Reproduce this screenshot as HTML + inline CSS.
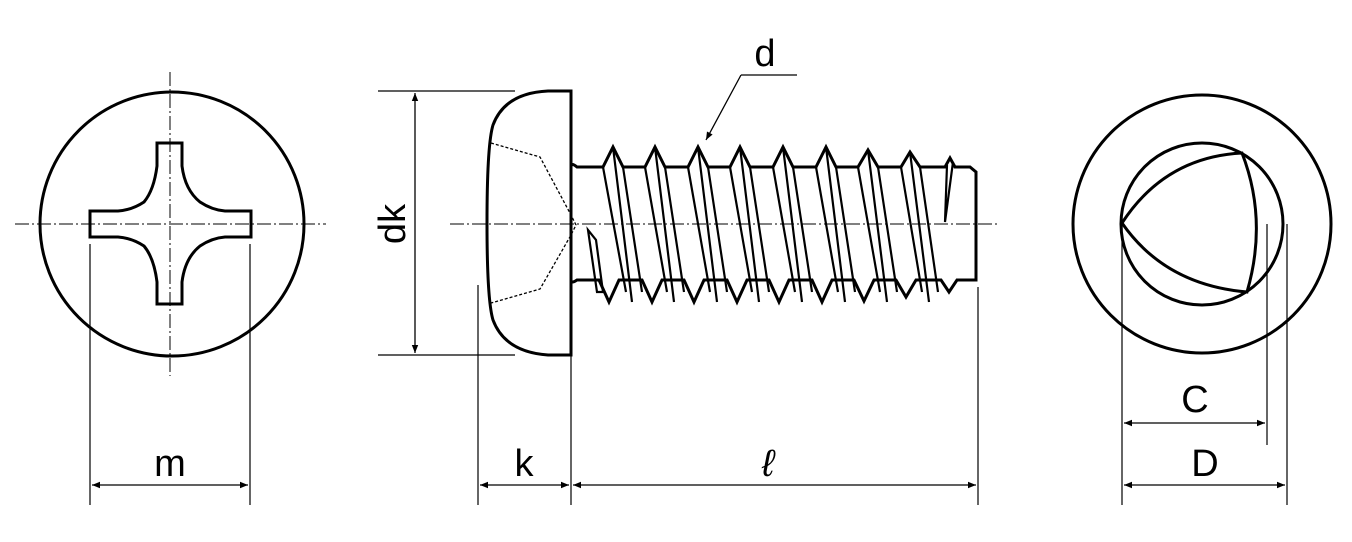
<!DOCTYPE html>
<html><head><meta charset="utf-8"><style>
html,body{margin:0;padding:0;background:#fff;}
svg{display:block;}
text{font-family:"Liberation Sans",sans-serif;fill:#000;}
</style></head><body>
<svg width="1352" height="542" viewBox="0 0 1352 542" xmlns="http://www.w3.org/2000/svg">
<defs>
<marker id="a" viewBox="0 0 10 10" refX="10" refY="5" markerWidth="14" markerHeight="8" markerUnits="userSpaceOnUse" orient="auto-start-reverse"><path d="M0,1 L10,5 L0,9 z" fill="#000"/></marker>
</defs>
<g fill="none" stroke="#000">
<circle cx="172" cy="224" r="132" stroke-width="3"/>
<path d="M157,143 H182 V166 Q185,190 200,202 Q212,210 225,211 H251 V237 H225 Q212,238 200,246 Q185,258 182,282 V304 H157 V282 Q154,258 144,246 Q132,238 118,237 H90 V211 H118 Q132,210 144,202 Q154,190 157,166 Z" stroke-width="3"/>
<line x1="15" y1="224" x2="326" y2="224" stroke-width="1" stroke-dasharray="14,3,2,3"/>
<line x1="170" y1="72" x2="170" y2="376" stroke-width="1" stroke-dasharray="14,3,2,3"/>
<line x1="90" y1="244" x2="90" y2="505" stroke-width="1.2"/>
<line x1="250" y1="244" x2="250" y2="505" stroke-width="1.2"/>
<line x1="92" y1="485" x2="248" y2="485" stroke-width="1.3" marker-start="url(#a)" marker-end="url(#a)"/>

<path d="M571,91 L548,91 Q505,93 493,125 Q487,145 487,223 Q487,300 493,320 Q505,352 548,355 L571,355 Z" stroke-width="3"/>
<path d="M491,143 L540,157 L571,215 L576,225 L571,235 L540,289 L491,303" stroke-width="1.3" stroke-dasharray="3,2"/>
<line x1="378" y1="91" x2="515" y2="91" stroke-width="1.2"/>
<line x1="378" y1="355" x2="515" y2="355" stroke-width="1.2"/>
<line x1="415" y1="93" x2="415" y2="353" stroke-width="1.3" marker-start="url(#a)" marker-end="url(#a)"/>
<line x1="478" y1="285" x2="478" y2="505" stroke-width="1.2"/>
<line x1="571" y1="355" x2="571" y2="505" stroke-width="1.2"/>
<line x1="978" y1="287" x2="978" y2="505" stroke-width="1.2"/>
<line x1="480" y1="485" x2="569" y2="485" stroke-width="1.3" marker-start="url(#a)" marker-end="url(#a)"/>
<line x1="573" y1="485" x2="976" y2="485" stroke-width="1.3" marker-start="url(#a)" marker-end="url(#a)"/>
<line x1="450" y1="224" x2="1000" y2="224" stroke-width="1" stroke-dasharray="14,3,2,3"/>
<path d="M571,167 Q571,162 577,167 L603,167 L613,147 L623,167 L645,167 L655,147 L665,167 L688,167 L698,147 L708,167 L730,167 L740,147 L750,167 L773,167 L783,147 L793,167 L816,167 L826,147 L836,167 L858,167 L868,150 L878,167 L901,167 L910,152 L920,167 L945,167 L950,158 L955,167 L970,167 L976,172 L976,280 L957,280 L949,292 L941,280 L916,280 L906,297 L896,280 L874,280 L864,301 L854,280 L832,280 L822,302 L812,280 L789,280 L779,302 L769,280 L747,280 L737,302 L727,280 L704,280 L694,302 L684,280 L662,280 L652,302 L642,280 L619,280 L609,302 L599,280 L577,280 Q571,284 571,280" stroke-width="3"/>
<g stroke-width="2.2">
<path d="M603,167 L626,292 M613,147 L632,302 M623,167 L642,292"/>
<path d="M645,167 L667,292 M655,147 L674,302 M665,167 L684,292"/>
<path d="M688,167 L710,292 M698,147 L717,302 M708,167 L727,292"/>
<path d="M730,167 L752,292 M740,147 L759,302 M750,167 L769,292"/>
<path d="M773,167 L795,292 M783,147 L802,302 M793,167 L812,292"/>
<path d="M816,167 L838,292 M826,147 L845,302 M836,167 L855,292"/>
<path d="M858,167 L880,292 M868,150 L887,302 M878,167 L897,292"/>
<path d="M901,167 L922,292 M910,152 L929,302 M920,167 L938,292"/>
<path d="M947,165 L945,222 L953,162"/>
<path d="M588,230 L597,292 L603,292 L596,240 Z"/>
</g>
<line x1="797" y1="75" x2="741" y2="75" stroke-width="1.3"/>
<line x1="741" y1="75" x2="706" y2="140" stroke-width="1.3" marker-end="url(#a)"/>

<circle cx="1202" cy="224" r="129" stroke-width="3"/>
<circle cx="1202" cy="224" r="81" stroke-width="3"/>
<path d="M1122,223 Q1165,157 1242,153 Q1268,220 1247,292 Q1165,285 1122,223 Z" stroke-width="3"/>
<line x1="1122" y1="223" x2="1122" y2="505" stroke-width="1.2"/>
<line x1="1267" y1="224" x2="1267" y2="445" stroke-width="1.2"/>
<line x1="1287" y1="224" x2="1287" y2="505" stroke-width="1.2"/>
<line x1="1124" y1="423" x2="1265" y2="423" stroke-width="1.3" marker-start="url(#a)" marker-end="url(#a)"/>
<line x1="1124" y1="485" x2="1285" y2="485" stroke-width="1.3" marker-start="url(#a)" marker-end="url(#a)"/>
</g>
<text x="170" y="476" font-size="38" text-anchor="middle">m</text>
<text x="524" y="476" font-size="38" text-anchor="middle">k</text>
<text x="768" y="476" font-size="38" text-anchor="middle" font-style="italic">ℓ</text>
<text x="765" y="66" font-size="38" text-anchor="middle">d</text>
<text x="1195" y="412" font-size="38" text-anchor="middle">C</text>
<text x="1205" y="476" font-size="38" text-anchor="middle">D</text>
<text transform="translate(405,224) rotate(-90)" font-size="38" text-anchor="middle">dk</text>
</svg>
</body></html>
